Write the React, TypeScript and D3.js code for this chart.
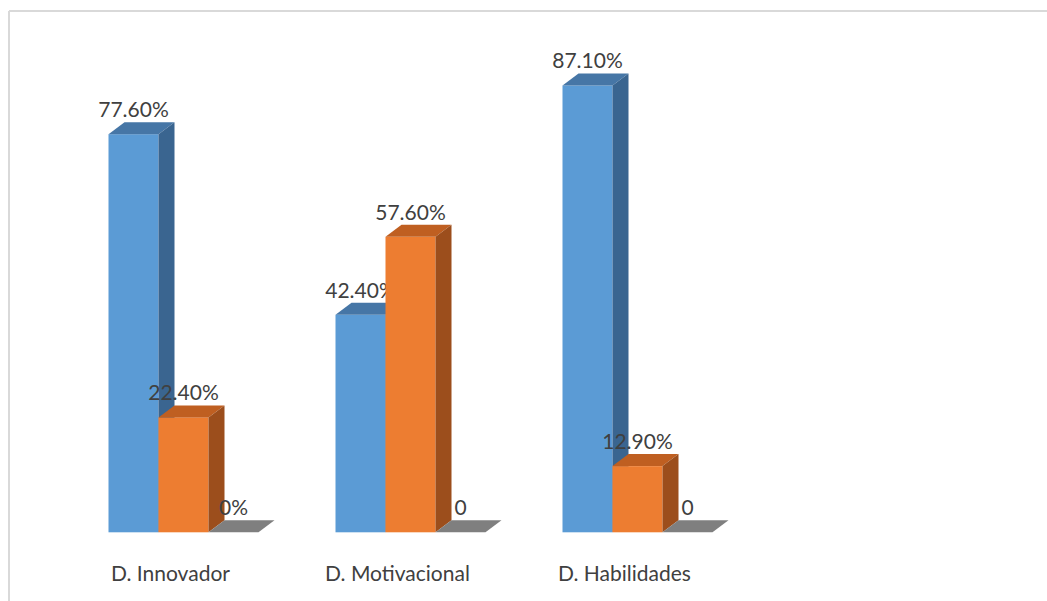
import React from "react";
import * as d3 from "d3";

const categories = ["D. Innovador", "D. Motivacional", "D. Habilidades"];
const seriesNames = ["Serie 1", "Serie 2", "Serie 3"];
const serie1 = [77.6, 42.4, 87.1];
const serie2 = [22.4, 57.6, 12.9];
const serie3 = [0, 0, 0];
const labels1 = ["77.60%", "42.40%", "87.10%"];
const labels2 = ["22.40%", "57.60%", "12.90%"];
const labels3 = ["0%", "0", "0"];

const W = 1047;
const H = 601;
const DX = 16;
const DY = 12;

const palette = [
  { front: "#5B9BD5", top: "#4676A6", side: "#3A6590" },
  { front: "#ED7D31", top: "#BF5F21", side: "#9C4E1C" },
  { front: "#A5A5A5", top: "#7F7F7F", side: "#6B6B6B" },
];

export default function App() {
  const y = d3.scaleLinear().domain([0, 100]).range([532.3, 19.3]);
  const x0 = d3.scaleBand<string>().domain(categories).range([70, 751]).padding(0);
  const groupW = 150;
  const x1 = d3.scaleBand<string>().domain(seriesNames).range([0, groupW]).padding(0);
  const values = [serie1, serie2, serie3];
  const labels = [labels1, labels2, labels3];
  const font = "Lato, 'Open Sans', sans-serif";

  const bars: React.ReactNode[] = [];
  categories.forEach((c, ci) => {
    const gx = (x0(c) as number) + (x0.bandwidth() - groupW) / 2;
    seriesNames.forEach((s, si) => {
      const v = values[si][ci];
      const xl = gx + (x1(s) as number);
      const xr = xl + x1.bandwidth();
      const yt = y(v);
      const yb = y(0);
      const col = palette[si];
      const topPts = `${xl},${yt} ${xl + DX},${yt - DY} ${xr + DX},${yt - DY} ${xr},${yt}`;
      const sidePts = `${xr},${yt} ${xr + DX},${yt - DY} ${xr + DX},${yb - DY} ${xr},${yb}`;
      bars.push(
        <g key={`${ci}-${si}`}>
          {v > 0 && <rect x={xl} y={yt} width={xr - xl} height={yb - yt} fill={col.front} />}
          <polygon points={topPts} fill={col.top} />
          {v > 0 && <polygon points={sidePts} fill={col.side} />}
          <text
            x={(xl + xr) / 2}
            y={yt - 17}
            textAnchor="middle"
            fontFamily={font}
            fontSize={21}
            fill="#404040"
          >
            {labels[si][ci]}
          </text>
        </g>
      );
    });
  });

  return (
    <svg
      width={W}
      height={H}
      style={{ position: "absolute", left: 0, top: 0, background: "#fff" }}
    >
      <rect x={0} y={0} width={W} height={H} fill="#ffffff" />
      <line x1={9} y1={11} x2={W} y2={11} stroke="#D9D9D9" strokeWidth={2} />
      <line x1={9} y1={11} x2={9} y2={H} stroke="#D9D9D9" strokeWidth={2} />
      {bars}
      {categories.map((c) => (
        <text
          key={c}
          x={(x0(c) as number) + x0.bandwidth() / 2 - 13}
          y={581}
          textAnchor="middle"
          fontFamily={font}
          fontSize={21}
          fill="#404040"
        >
          {c}
        </text>
      ))}
    </svg>
  );
}
